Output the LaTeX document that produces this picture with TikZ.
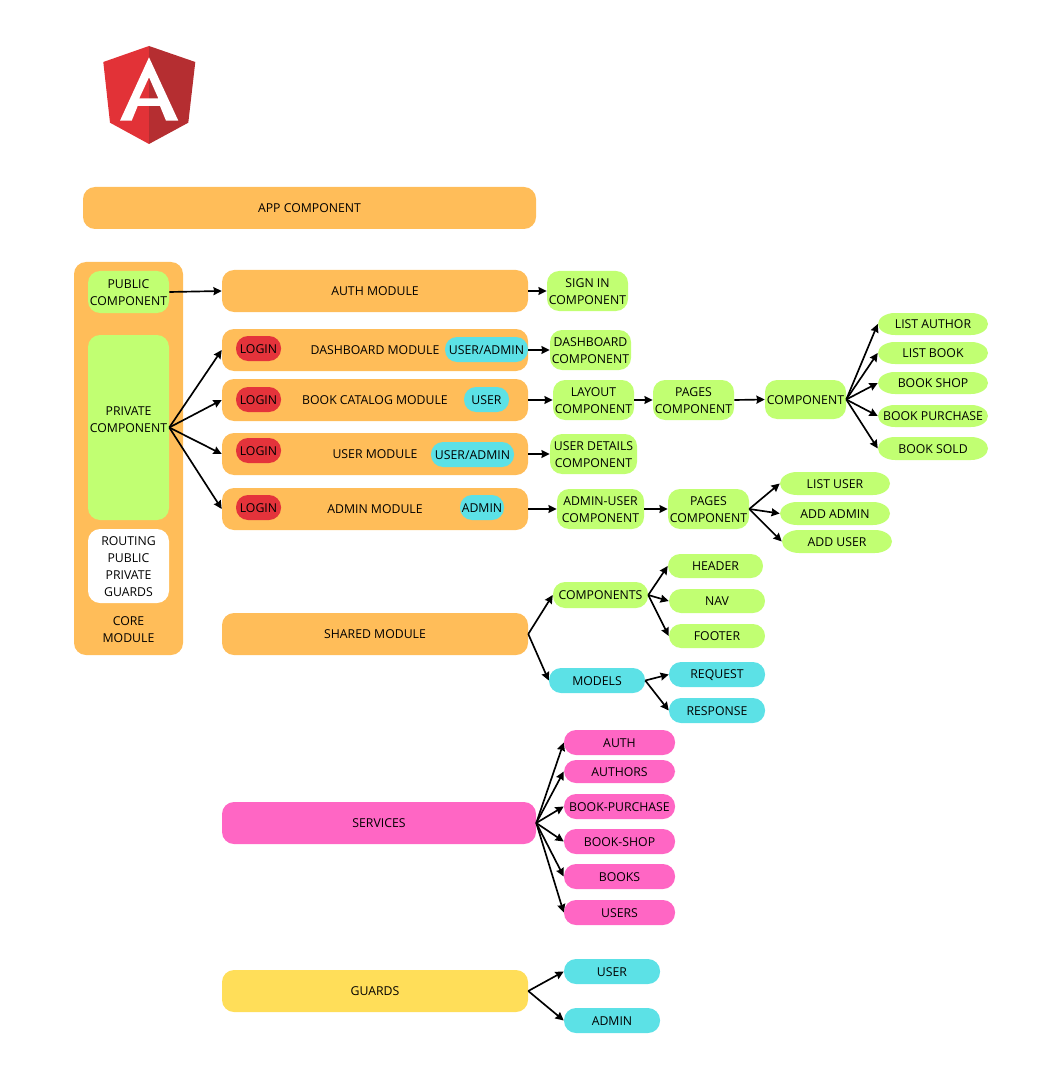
\documentclass[tikz,border=0pt]{standalone}
\usepackage{fontspec}
\setmainfont{Open Sans}
\usetikzlibrary{arrows.meta}
\definecolor{orangeb}{HTML}{FFBD59}
\definecolor{greenb}{HTML}{C1FF72}
\definecolor{cyanb}{HTML}{5CE1E6}
\definecolor{pinkb}{HTML}{FF66C4}
\definecolor{yellowb}{HTML}{FFDE59}
\definecolor{redb}{HTML}{E4333B}
\definecolor{logolight}{HTML}{E23237}
\definecolor{logodark}{HTML}{B52E31}
\tikzset{
  boxbase/.style={inner sep=0pt,align=center,text=black,font=\fontsize{9.2}{12.75}\selectfont},
  orangebox/.style={boxbase,fill=orangeb,rounded corners=9pt},
  greenbox/.style={boxbase,fill=greenb,rounded corners=9pt},
  whitebox/.style={boxbase,fill=white,rounded corners=9pt},
  pinkbox/.style={boxbase,fill=pinkb,rounded corners=9pt},
  yellowbox/.style={boxbase,fill=yellowb,rounded corners=9pt},
  greenpill/.style={boxbase,fill=greenb,rounded corners=9pt},
  cyanpill/.style={boxbase,fill=cyanb,rounded corners=9pt},
  redpill/.style={boxbase,fill=redb,rounded corners=9pt},
  pinkpill/.style={boxbase,fill=pinkb,rounded corners=9pt},
  plain/.style={boxbase},
  conn/.style={draw=black,line width=1.25pt,-{Stealth[length=6.2pt,width=6pt,inset=0.6pt]}}
}
\newcommand{\bx}[7]{%
  \pgfmathsetmacro{\bw}{(#5-#3)*0.75}%
  \pgfmathsetmacro{\bh}{(#6-#4)*0.75}%
  \pgfmathsetmacro{\cx}{(#3+#5)/2}%
  \pgfmathsetmacro{\cy}{(#4+#6)/2}%
  \node[#2,minimum width=\bw pt,minimum height=\bh pt] (#1) at (\cx,\cy) {\rule{0pt}{7.2pt}#7};%
}
% a leaf whose ends are half ellipses, wider than they are high
\newcommand{\lf}[6]{%
  \pgfmathsetmacro{\cy}{(#3+#5)/2}%
  \pgfmathsetmacro{\rxa}{#2+17}\pgfmathsetmacro{\rxb}{#4-17}%
  \pgfmathsetmacro{\cxa}{#2+17*0.45}\pgfmathsetmacro{\cxb}{#4-17*0.45}%
  \pgfmathsetmacro{\uya}{\cy-(#5-#3)*0.275}\pgfmathsetmacro{\uyb}{\cy+(#5-#3)*0.275}%
  \fill[greenb] (#2,\cy) .. controls (#2,\uya) and (\cxa,#3) .. (\rxa,#3) -- (\rxb,#3)
    .. controls (\cxb,#3) and (#4,\uya) .. (#4,\cy) .. controls (#4,\uyb) and (\cxb,#5) .. (\rxb,#5)
    -- (\rxa,#5) .. controls (\cxa,#5) and (#2,\uyb) .. (#2,\cy) -- cycle;%
  \bx{#1}{plain}{#2}{#3}{#4}{#5}{#6}%
}
\begin{document}
\begin{tikzpicture}[x=0.75pt,y=-0.75pt]
\useasboundingbox (0,0) rectangle (1038,1080);
% logo
\fill[logolight] (149,46) -- (103.3,62) -- (110,122.7) -- (149,144) -- cycle;
\fill[logodark] (149,46) -- (195.3,62) -- (188.3,122.7) -- (149,144) -- cycle;
\fill[white,even odd rule] (149,57.3) -- (120,120.7) -- (131.7,120.7) -- (137.7,106) -- (160,106) -- (166,120.7) -- (178.3,120.7) -- cycle
  (149,77.3) -- (158.3,98.3) -- (139.3,98.3) -- cycle;
% containers
\bx{app}{orangebox}{83}{187}{536}{229}{APP COMPONENT}
\bx{core}{orangebox}{74}{262}{183}{655}{}
\bx{public}{greenbox}{88}{271}{169}{313}{PUBLIC\\COMPONENT}
\bx{private}{greenbox}{88}{335}{169}{520}{PRIVATE\\COMPONENT\\\mbox{}}
\bx{routing}{whitebox}{88}{529}{169}{603}{ROUTING\\PUBLIC\\PRIVATE\\GUARDS}
\bx{corelabel}{plain}{88}{612}{169}{646}{CORE\\MODULE}
% modules
\bx{auth}{orangebox}{222}{270}{528}{312}{AUTH MODULE}
\bx{dash}{orangebox}{222}{329}{528}{371}{DASHBOARD MODULE}
\bx{book}{orangebox}{222}{379}{528}{421}{BOOK CATALOG MODULE}
\bx{user}{orangebox}{222}{433}{528}{475}{USER MODULE}
\bx{admin}{orangebox}{222}{488}{528}{530}{ADMIN MODULE}
\bx{shared}{orangebox}{222}{613}{528}{655}{SHARED MODULE}
\bx{services}{pinkbox}{222}{802}{536}{844}{SERVICES}
\bx{guards}{yellowbox}{222}{970}{528}{1012}{GUARDS}
% badges
\bx{login1}{redpill}{236}{336}{281}{361}{LOGIN}
\bx{login2}{redpill}{236}{387}{281}{412}{LOGIN}
\bx{login3}{redpill}{236}{438}{281}{463}{LOGIN}
\bx{login4}{redpill}{236}{495}{281}{520}{LOGIN}
\bx{role1}{cyanpill}{445}{337}{528}{362}{USER\smash{/}ADMIN}
\bx{role2}{cyanpill}{464}{387}{509}{412}{USER}
\bx{role3}{cyanpill}{431}{442}{514}{467}{USER\smash{/}ADMIN}
\bx{role4}{cyanpill}{460}{495}{504}{520}{ADMIN}
% components
\bx{signin}{greenbox}{547}{271}{628}{311}{SIGN IN\\COMPONENT}
\bx{dashc}{greenbox}{550}{330}{631}{370}{DASHBOARD\\COMPONENT}
\bx{layout}{greenbox}{553}{380}{634}{420}{LAYOUT\\COMPONENT}
\bx{pagesa}{greenbox}{653}{380}{734}{420}{PAGES\\COMPONENT}
\bx{comp}{greenbox}{765}{380}{846}{419}{COMPONENT}
\bx{userd}{greenbox}{550}{434}{637}{474}{USER DETAILS\\COMPONENT}
\bx{adminu}{greenbox}{557}{489}{644}{529}{ADMIN-USER\\COMPONENT}
\bx{pagesb}{greenbox}{668}{489}{749}{529}{PAGES\\COMPONENT}
% leaves
\lf{lauthor}{878}{313}{988}{335}{LIST AUTHOR}
\lf{lbook}{878}{342}{988}{364}{LIST BOOK}
\lf{bshop}{878}{372}{988}{394}{BOOK SHOP}
\lf{bpurch}{878}{405}{988}{427}{BOOK PURCHASE}
\lf{bsold}{878}{437}{988}{460}{BOOK SOLD}
\lf{luser}{780}{472}{890}{495}{LIST USER}
\lf{aadmin}{780}{502}{890}{525}{ADD ADMIN}
\lf{auser}{782}{530}{892}{553}{ADD USER}
% shared
\bx{comps}{greenpill}{553}{582}{648}{608}{COMPONENTS}
\bx{header}{greenpill}{668}{554}{763}{578}{HEADER}
\bx{nav}{greenpill}{669}{589}{765}{613}{NAV}
\bx{footer}{greenpill}{669}{624}{765}{648}{FOOTER}
\bx{models}{cyanpill}{549}{668}{645}{693}{MODELS}
\bx{request}{cyanpill}{669}{662}{765}{687}{REQUEST}
\bx{response}{cyanpill}{669}{698}{765}{723}{RESPONSE}
% services
\bx{sauth}{pinkpill}{564}{730}{675}{755}{AUTH}
\bx{sauthors}{pinkpill}{564}{760}{675}{783}{AUTHORS}
\bx{sbp}{pinkpill}{564}{794}{675}{819}{BOOK-PURCHASE}
\bx{sbs}{pinkpill}{564}{829}{675}{854}{BOOK-SHOP}
\bx{sbooks}{pinkpill}{564}{864}{675}{889}{BOOKS}
\bx{susers}{pinkpill}{564}{900}{675}{925}{USERS}
% guards
\bx{guser}{cyanpill}{564}{959}{660}{984}{USER}
\bx{gadmin}{cyanpill}{564}{1008}{660}{1033}{ADMIN}
% connectors
\draw[conn] (public.east) -- (auth.west);
\foreach \t in {dash,book,user,admin} \draw[conn] (private.east) -- (\t.west);
\draw[conn] (auth.east) -- (signin.west);
\draw[conn] (dash.east) -- (dashc.west);
\draw[conn] (book.east) -- (layout.west);
\draw[conn] (layout.east) -- (pagesa.west);
\draw[conn] (pagesa.east) -- (comp.west);
\draw[conn] (user.east) -- (userd.west);
\draw[conn] (admin.east) -- (adminu.west);
\draw[conn] (adminu.east) -- (pagesb.west);
\foreach \t in {lauthor,lbook,bshop,bpurch,bsold} \draw[conn] (comp.east) -- (\t.west);
\foreach \t in {luser,aadmin,auser} \draw[conn] (pagesb.east) -- (\t.west);
\foreach \t in {comps,models} \draw[conn] (shared.east) -- (\t.west);
\foreach \t in {header,nav,footer} \draw[conn] (comps.east) -- (\t.west);
\foreach \t in {request,response} \draw[conn] (models.east) -- (\t.west);
\foreach \t in {sauth,sauthors,sbp,sbs,sbooks,susers} \draw[conn] (services.east) -- (\t.west);
\foreach \t in {guser,gadmin} \draw[conn] (guards.east) -- (\t.west);
\end{tikzpicture}
\end{document}
